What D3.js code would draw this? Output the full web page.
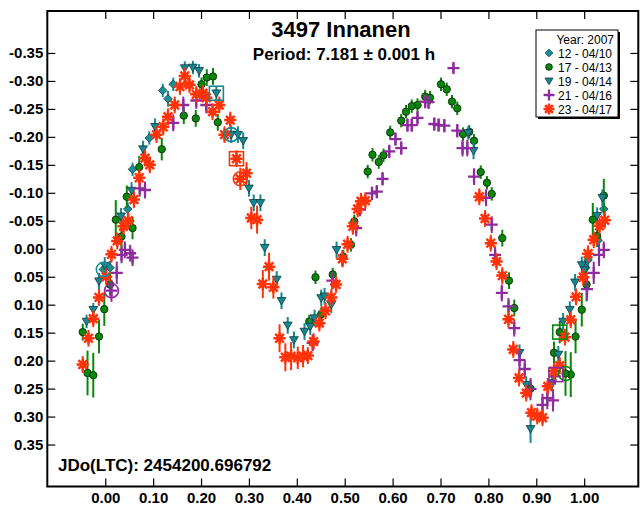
<!DOCTYPE html>
<html><head><meta charset="utf-8">
<script src="https://cdn.jsdelivr.net/npm/d3@7"></script>
<style>html,body{margin:0;padding:0;background:#fff;}svg{display:block;font-family:"Liberation Sans",Arial,sans-serif;}</style>
</head><body>
<svg id="chart" width="642" height="508"></svg>
<script>
// ---------- DATA (phase, magnitude, error) ----------
const title = "3497 Innanen";
const subtitle = "Period: 7.181 \u00b1 0.001 h";
const epochLabel = "JDo(LTC): 2454200.696792";
const legendTitle = "Year: 2007";
const seriesNames = ["12 - 04/10", "17 - 04/13", "19 - 04/14", "21 - 04/16", "23 - 04/17"];
const seriesShapes = ["diamond", "circle", "triangle", "plus", "asterisk"];
const seriesColors = ["#1b8f99", "#0a870a", "#17878f", "#8e2c9e", "#ff330a"];
const xTicks = [0.0, 0.1, 0.2, 0.3, 0.4, 0.5, 0.6, 0.7, 0.8, 0.9, 1.0];
const yTicks = [-0.35, -0.30, -0.25, -0.20, -0.15, -0.10, -0.05, 0.00, 0.05, 0.10, 0.15, 0.20, 0.25, 0.30, 0.35];

const s12 = [
  [0.120,-0.283,0.012],[0.142,-0.294,0.012],[0.131,-0.268,0.014],[0.092,-0.198,0.012],
  [0.057,-0.142,0.012],[0.047,-0.071,0.012],[0.010,0.034,0.012],[-0.004,0.037,0.012],
  [1.008,0.020,0.012],[1.041,-0.071,0.012],[1.029,-0.015,0.012],[1.003,0.034,0.012]
];
const s17 = [
  [0.212,-0.306,0.015],[0.225,-0.308,0.015],[0.201,-0.294,0.012],[0.164,-0.238,0.015],
  [0.189,-0.233,0.015],[0.235,-0.226,0.015],[0.118,-0.178,0.020],[0.071,-0.146,0.020],
  [0.045,-0.093,0.020],[0.057,-0.037,0.020],[0.022,-0.052,0.035],[0.034,-0.022,0.030],
  [0.010,0.064,0.020],[-0.002,0.108,0.030],[-0.013,0.157,0.030],[-0.047,0.149,0.015],
  [-0.037,0.222,0.040],[-0.025,0.226,0.040],
  [0.439,0.051,0.012],[0.475,0.046,0.012],[0.426,0.130,0.012],[0.451,0.117,0.012],
  [0.513,-0.007,0.012],[0.520,-0.049,0.012],[0.497,0.014,0.012],
  [0.701,-0.294,0.012],[0.713,-0.285,0.012],[0.724,-0.263,0.012],[0.735,-0.251,0.012],
  [0.678,-0.270,0.012],[0.668,-0.272,0.012],[0.652,-0.257,0.012],[0.640,-0.255,0.012],
  [0.628,-0.245,0.012],[0.618,-0.229,0.012],[0.595,-0.208,0.012],[0.558,-0.168,0.012],
  [0.571,-0.155,0.012],[0.581,-0.167,0.012],[0.548,-0.138,0.012],
  [0.747,-0.205,0.012],[0.760,-0.209,0.012],[0.770,-0.193,0.012],[0.784,-0.137,0.012],
  [0.797,-0.118,0.012],[0.807,-0.098,0.012],
  [0.829,-0.019,0.015],[0.843,0.057,0.015],[0.854,0.106,0.015],[0.888,0.250,0.015],
  [0.937,0.186,0.020],[0.949,0.149,0.020],[0.982,0.157,0.030],[0.995,0.109,0.030],
  [0.972,0.225,0.040],[0.961,0.223,0.040],[1.005,0.064,0.030],[1.018,-0.052,0.030],
  [1.027,-0.023,0.020],[1.041,-0.095,0.030]
];
const s19 = [
  [0.166,-0.323,0.012],[0.183,-0.324,0.012],[0.196,-0.318,0.012],[0.104,-0.218,0.015],
  [0.079,-0.178,0.015],[0.055,-0.104,0.015],[0.033,-0.058,0.015],[-0.001,0.030,0.015],
  [-0.013,0.058,0.015],[-0.025,0.109,0.012],[-0.039,0.130,0.012],
  [0.232,-0.278,0.012],[0.263,-0.204,0.015],[0.277,-0.204,0.015],[0.288,-0.193,0.015],
  [0.300,-0.108,0.015],[0.310,-0.082,0.015],[0.324,-0.082,0.015],[0.333,-0.002,0.015],
  [0.358,0.055,0.015],[0.368,0.093,0.015],[0.381,0.137,0.015],[0.394,0.163,0.015],
  [0.416,0.148,0.015],[0.428,0.139,0.015],[0.437,0.124,0.015],[0.451,0.088,0.015],
  [0.458,0.085,0.015],[0.472,0.100,0.015],[0.483,0.002,0.015],[0.496,0.017,0.015],
  [0.758,-0.207,0.012],[0.769,-0.175,0.015],
  [0.865,0.186,0.015],[0.879,0.243,0.015],[0.888,0.322,0.025],[0.933,0.240,0.015],
  [0.946,0.189,0.015],[0.956,0.130,0.015],[0.970,0.109,0.015],[0.981,0.060,0.015],
  [0.995,0.029,0.015],[1.001,0.038,0.015],[1.027,-0.059,0.015],[1.038,-0.091,0.015]
];
const s21 = [
  [0.163,-0.257,0.015],[0.211,-0.257,0.015],[0.190,-0.265,0.015],[0.142,-0.225,0.015],
  [0.072,-0.108,0.015],[0.083,-0.105,0.015],[0.041,0.002,0.015],[0.052,0.008,0.015],
  [0.057,0.016,0.015],[0.034,0.011,0.015],[0.024,0.043,0.020],[0.013,0.075,0.020],
  [0.474,0.057,0.015],[0.433,0.168,0.015],[0.524,-0.037,0.015],
  [0.727,-0.323,0.008],[0.668,-0.263,0.012],[0.675,-0.262,0.012],[0.652,-0.234,0.012],
  [0.631,-0.221,0.012],[0.640,-0.221,0.012],[0.687,-0.223,0.012],[0.696,-0.221,0.012],
  [0.708,-0.220,0.012],[0.735,-0.211,0.012],[0.746,-0.180,0.015],[0.756,-0.180,0.015],
  [0.606,-0.196,0.012],[0.618,-0.180,0.012],[0.593,-0.174,0.012],[0.579,-0.125,0.012],
  [0.567,-0.102,0.012],[0.557,-0.099,0.012],[0.532,-0.070,0.012],
  [0.770,-0.129,0.015],[0.795,-0.091,0.015],[0.807,-0.043,0.015],[0.814,0.011,0.015],
  [0.828,0.079,0.015],[0.842,0.103,0.015],[0.854,0.142,0.015],[0.865,0.199,0.020],
  [0.876,0.215,0.015],[0.888,0.251,0.020],[0.913,0.279,0.020],[0.923,0.267,0.020],
  [0.935,0.271,0.020],[0.939,0.228,0.015],
  [1.020,0.043,0.020],[1.006,0.072,0.020],[1.031,0.011,0.020],[1.041,0.002,0.015]
];
const s23 = [
  [0.166,-0.309,0.015],[0.156,-0.290,0.015],[0.176,-0.293,0.015],[0.190,-0.276,0.015],
  [0.211,-0.270,0.015],[0.224,-0.245,0.015],[0.145,-0.257,0.015],[0.131,-0.236,0.015],
  [0.121,-0.218,0.015],[0.107,-0.204,0.015],[0.083,-0.162,0.015],[0.093,-0.150,0.015],
  [0.071,-0.127,0.015],[0.060,-0.088,0.015],[0.048,-0.050,0.015],[0.038,-0.040,0.015],
  [0.025,-0.014,0.015],[0.013,0.010,0.015],[0.002,0.050,0.015],[-0.013,0.087,0.015],
  [-0.025,0.125,0.015],[-0.035,0.160,0.015],[-0.047,0.207,0.015],
  [0.204,-0.278,0.015],[0.238,-0.257,0.015],[0.261,-0.230,0.015],[0.249,-0.204,0.015],
  [0.274,-0.161,0.015],[0.295,-0.135,0.020],[0.282,-0.125,0.020],[0.305,-0.055,0.020],
  [0.317,-0.052,0.025],[0.342,0.032,0.025],[0.329,0.063,0.025],[0.351,0.069,0.020],
  [0.364,0.160,0.025],[0.376,0.194,0.025],[0.388,0.192,0.025],[0.402,0.195,0.020],
  [0.413,0.192,0.020],[0.423,0.191,0.015],[0.435,0.166,0.015],[0.447,0.133,0.015],
  [0.460,0.111,0.015],[0.472,0.087,0.015],[0.482,0.064,0.015],[0.495,0.018,0.015],
  [0.506,-0.008,0.015],[0.517,-0.040,0.015],[0.527,-0.071,0.015],[0.534,-0.085,0.015],
  [0.543,-0.086,0.015],
  [0.781,-0.093,0.015],[0.793,-0.054,0.015],[0.805,-0.010,0.015],[0.817,0.023,0.015],
  [0.829,0.048,0.015],[0.842,0.126,0.015],[0.852,0.180,0.015],[0.864,0.231,0.015],
  [0.879,0.258,0.015],[0.890,0.293,0.015],[0.902,0.299,0.015],[0.913,0.302,0.015],
  [0.924,0.246,0.015],[0.937,0.219,0.015],[0.949,0.209,0.015],[0.960,0.158,0.015],
  [0.972,0.127,0.015],[0.983,0.086,0.015],[0.998,0.051,0.015],[1.008,0.009,0.015],
  [1.020,-0.016,0.015],[1.032,-0.041,0.015],[1.043,-0.051,0.015]
];
const seriesData = [s12, s17, s19, s21, s23];
// open marks: [series index, phase, magnitude, shape]
const openMarks = [
  [2, 0.232, -0.278, "square"], [2, 0.263, -0.204, "circle"],
  [4, 0.274, -0.161, "square"], [4, 0.282, -0.125, "circle"],
  [0, -0.004, 0.037, "circle"], [3, 0.013, 0.075, "circle"],
  [1, 0.949, 0.149, "square"], [1, 0.961, 0.223, "circle"],
  [3, 0.941, 0.225, "square"]
];

// ---------- CHART ----------
(function () {
const svg = d3.select("#chart");
const W = 642, H = 508;
const pL = 47.3, pR = 638.3, pT = 11, pB = 486.5;
const x = d3.scaleLinear().domain([-0.121, 1.113]).range([pL, pR]);
const y = d3.scaleLinear().domain([-0.425, 0.425]).range([pT, pB]);

svg.append("rect").attr("width", W).attr("height", H).attr("fill", "#fff");

const fmt = v => (Math.abs(v) < 1e-9 ? "0.00" : v.toFixed(2));

function styleAxis(g) {
  g.select(".domain").remove();
  g.selectAll(".tick line").attr("stroke", "#000").attr("stroke-width", 1.2);
  g.selectAll(".tick text").attr("fill", "#000").attr("font-size", 15).attr("font-weight", "bold")
    .attr("font-family", "'Liberation Sans', Arial, sans-serif");
}
svg.append("g").attr("transform", `translate(${pL},0)`)
  .call(d3.axisLeft(y).tickValues(yTicks).tickSize(-8).tickPadding(4).tickFormat(fmt)).call(styleAxis);
svg.append("g").attr("transform", `translate(${pR},0)`)
  .call(d3.axisRight(y).tickValues(yTicks).tickSize(-8).tickFormat("")).call(styleAxis);
svg.append("g").attr("transform", `translate(0,${pB})`)
  .call(d3.axisBottom(x).tickValues(xTicks).tickSize(-8).tickPadding(6).tickFormat(fmt)).call(styleAxis);
svg.append("g").attr("transform", `translate(0,${pT})`)
  .call(d3.axisTop(x).tickValues(xTicks).tickSize(-8).tickFormat("")).call(styleAxis);

svg.append("rect").attr("x", pL).attr("y", pT).attr("width", pR - pL).attr("height", pB - pT)
  .attr("fill", "none").attr("stroke", "#000").attr("stroke-width", 2);

const plot = svg.append("g");

function drawSymbol(g, shape, color, cx, cy, scale) {
  const k = scale || 1;
  if (shape === "diamond") {
    const r = 4.3 * k;
    g.append("path").attr("d", `M${cx},${cy - r}L${cx + r},${cy}L${cx},${cy + r}L${cx - r},${cy}Z`)
      .attr("fill", color).attr("stroke", "#0b3d44").attr("stroke-width", 0.8);
  } else if (shape === "circle") {
    g.append("circle").attr("cx", cx).attr("cy", cy).attr("r", 3.7 * k)
      .attr("fill", color).attr("stroke", "#063006").attr("stroke-width", 0.9);
  } else if (shape === "triangle") {
    const r = 4.4 * k;
    g.append("path").attr("d", `M${cx - r},${cy - r * 0.75}L${cx + r},${cy - r * 0.75}L${cx},${cy + r * 0.95}Z`)
      .attr("fill", color).attr("stroke", "#0a3a40").attr("stroke-width", 0.8);
  } else if (shape === "plus") {
    const r = 6 * k;
    g.append("path").attr("d", `M${cx - r},${cy}H${cx + r}M${cx},${cy - r}V${cy + r}`)
      .attr("stroke", color).attr("stroke-width", 2.3).attr("fill", "none");
  } else if (shape === "asterisk") {
    const r = 6.1 * k;
    let d = "";
    for (let i = 0; i < 4; i++) {
      const a = i * Math.PI / 4;
      d += `M${cx - r * Math.cos(a)},${cy - r * Math.sin(a)}L${cx + r * Math.cos(a)},${cy + r * Math.sin(a)}`;
    }
    g.append("path").attr("d", d).attr("stroke", color).attr("stroke-width", 2.5).attr("fill", "none");
    g.append("circle").attr("cx", cx).attr("cy", cy).attr("r", 3 * k).attr("fill", color);
  }
}

seriesData.forEach((data, si) => {
  const g = plot.append("g");
  const col = seriesColors[si];
  g.selectAll("line.err").data(data).join("line").attr("class", "err")
    .attr("x1", d => x(d[0])).attr("x2", d => x(d[0]))
    .attr("y1", d => y(d[1] - d[2])).attr("y2", d => y(d[1] + d[2]))
    .attr("stroke", col).attr("stroke-width", 2);
  data.forEach(d => drawSymbol(g, seriesShapes[si], col, x(d[0]), y(d[1])));
});

openMarks.forEach(m => {
  const col = seriesColors[m[0]];
  const cx = x(m[1]), cy = y(m[2]);
  if (m[3] === "square") {
    plot.append("rect").attr("x", cx - 7).attr("y", cy - 7).attr("width", 14).attr("height", 14)
      .attr("fill", "none").attr("stroke", col).attr("stroke-width", 1.6);
  } else {
    plot.append("circle").attr("cx", cx).attr("cy", cy).attr("r", 7)
      .attr("fill", "none").attr("stroke", col).attr("stroke-width", 1.6);
  }
});

svg.append("text").attr("x", 341).attr("y", 37).attr("text-anchor", "middle")
  .attr("font-size", 22).attr("font-weight", "bold").attr("fill", "#000").text(title);
svg.append("text").attr("x", 344).attr("y", 60).attr("text-anchor", "middle")
  .attr("font-size", 17).attr("font-weight", "bold").attr("fill", "#000").text(subtitle);
svg.append("text").attr("x", 58).attr("y", 471)
  .attr("font-size", 17).attr("font-weight", "bold").attr("fill", "#000").text(epochLabel);

const lg = svg.append("g");
const lx = 536, ly = 30, lw = 82, lh = 87;
lg.append("rect").attr("x", lx + 2).attr("y", ly + 2).attr("width", lw).attr("height", lh).attr("fill", "#000");
lg.append("rect").attr("x", lx).attr("y", ly).attr("width", lw).attr("height", lh)
  .attr("fill", "#fff").attr("stroke", "#000").attr("stroke-width", 1);
lg.append("text").attr("x", lx + lw - 4).attr("y", ly + 14).attr("text-anchor", "end")
  .attr("font-size", 12).attr("fill", "#000").text(legendTitle);
seriesNames.forEach((name, i) => {
  const cy = ly + 23 + i * 14;
  drawSymbol(lg, seriesShapes[i], seriesColors[i], lx + 13, cy, 0.9);
  lg.append("text").attr("x", lx + 22).attr("y", cy + 4.5).attr("font-size", 12)
    .attr("fill", "#000").text(name);
});
})();
</script>
</body></html>
